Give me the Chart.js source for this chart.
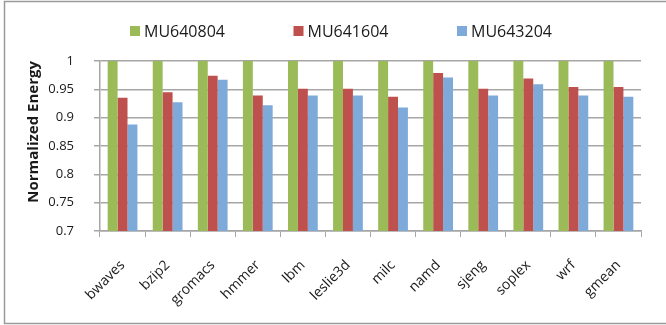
<!DOCTYPE html>
<html>
<head>
<meta charset="utf-8">
<script src="https://cdn.jsdelivr.net/npm/chart.js@4/dist/chart.umd.min.js"></script>
<style>
  html, body { margin: 0; padding: 0; background: #fff; }
  #wrap { width: 666px; height: 325px; }
</style>
</head>
<body>
<div id="wrap"><canvas id="energyChart" width="666" height="325"></canvas></div>
<script>
const benchmarks = ["bwaves", "bzip2", "gromacs", "hmmer", "lbm", "leslie3d", "milc", "namd", "sjeng", "soplex", "wrf", "gmean"];
const mu640804 = [1, 1, 1, 1, 1, 1, 1, 1, 1, 1, 1, 1];
const mu641604 = [0.935, 0.945, 0.974, 0.939, 0.951, 0.951, 0.937, 0.979, 0.951, 0.969, 0.954, 0.954];
const mu643204 = [0.888, 0.927, 0.967, 0.922, 0.939, 0.939, 0.918, 0.971, 0.939, 0.959, 0.939, 0.937];
const yTicks = [0.7, 0.75, 0.8, 0.85, 0.9, 0.95, 1];

const gridGray = "#a6a6a6";
const textColor = "#1a1a1a";

// frame around the whole figure
const framePlugin = {
  id: "frame",
  beforeDraw(chart) {
    const ctx = chart.ctx;
    ctx.save();
    ctx.strokeStyle = "#9a9a9a";
    ctx.lineWidth = 1.5;
    ctx.strokeRect(4.5, 1.5, chart.width + 10, chart.height - 3);
    ctx.restore();
  }
};

// small square legend in one row above the plot
const topLegend = {
  id: "topLegend",
  afterDraw(chart) {
    const ctx = chart.ctx;
    const startX = 130, stride = 163.5, cy = 31, box = 10;
    ctx.save();
    ctx.font = "16px 'Open Sans'";
    ctx.textBaseline = "middle";
    chart.data.datasets.forEach((ds, i) => {
      const x = startX + i * stride;
      ctx.fillStyle = ds.backgroundColor;
      ctx.fillRect(x, cy - box / 2, box, box);
      ctx.fillStyle = textColor;
      ctx.fillText(ds.label, x + box + 4, cy + 1);
    });
    ctx.restore();
  }
};

new Chart(document.getElementById("energyChart"), {
  type: "bar",
  data: {
    labels: benchmarks,
    datasets: [
      { label: "MU640804", data: mu640804, backgroundColor: "#9bbb59" },
      { label: "MU641604", data: mu641604, backgroundColor: "#be504d" },
      { label: "MU643204", data: mu643204, backgroundColor: "#7eaad9" }
    ]
  },
  options: {
    responsive: false,
    animation: false,
    devicePixelRatio: 1,
    layout: { padding: { top: 61, right: 25, left: 6, bottom: 0 } },
    datasets: {
      bar: { categoryPercentage: 0.66, barPercentage: 1 }
    },
    plugins: {
      legend: { display: false },
      tooltip: { enabled: false }
    },
    scales: {
      x: {
        afterFit(scale) { scale.height = 94; },
        grid: { offset: true, drawOnChartArea: false, drawTicks: true, tickLength: 6, color: gridGray },
        border: { display: true, color: gridGray, width: 1.5 },
        ticks: {
          minRotation: 45,
          maxRotation: 45,
          padding: 20,
          color: textColor,
          font: { family: "'Open Sans'", size: 14 }
        }
      },
      y: {
        min: 0.7,
        max: 1,
        afterFit(scale) { scale.width = 94; },
        afterBuildTicks(scale) { scale.ticks = yTicks.map(v => ({ value: v })); },
        grid: { color: gridGray, lineWidth: 1.5, drawTicks: true, tickLength: 6 },
        border: { display: true, color: gridGray, width: 1.5 },
        ticks: {
          padding: 20,
          color: textColor,
          font: { family: "'Open Sans'", size: 13 },
          callback: v => String(+v.toFixed(2))
        },
        title: {
          display: true,
          text: "Normalized Energy",
          align: "end",
          color: textColor,
          padding: { top: 19, bottom: 0 },
          font: { family: "'Open Sans'", size: 15, weight: "bold" }
        }
      }
    }
  },
  plugins: [framePlugin, topLegend]
});
</script>
</body>
</html>
